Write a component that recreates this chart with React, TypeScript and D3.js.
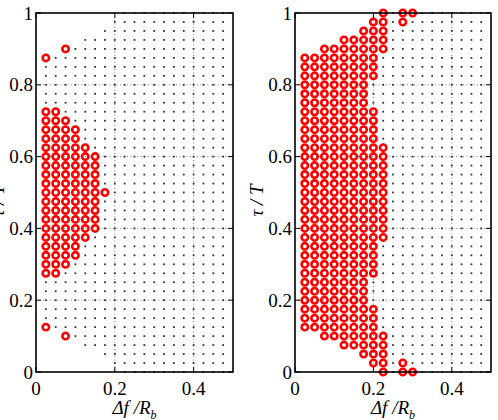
import * as d3 from 'd3';

// sampling grid (Δf/R_b columns, τ/T rows)
const dfGrid = [0.025, 0.05, 0.075, 0.1, 0.125, 0.15, 0.175, 0.2, 0.225, 0.25, 0.275, 0.3, 0.325, 0.35, 0.375, 0.4, 0.425, 0.45, 0.475];
const tauGrid = [0, 0.025, 0.05, 0.075, 0.1, 0.125, 0.15, 0.175, 0.2, 0.225, 0.25, 0.275, 0.3, 0.325, 0.35, 0.375, 0.4, 0.425, 0.45, 0.475, 0.5,
    0.525, 0.55, 0.575, 0.6, 0.625, 0.65, 0.675, 0.7, 0.725, 0.75, 0.775, 0.8, 0.825, 0.85, 0.875, 0.9, 0.925, 0.95, 0.975, 1];
// lowest τ sampled in each column (region is symmetric about τ = 0.5)
const tauLowerBound = [0.125, 0.125, 0.1, 0.1, 0.075, 0.075, 0.05, 0.025, 0, 0, 0, 0, 0, 0, 0, 0, 0, 0, 0];

const xTicks = [0, 0.2, 0.4];
const yTicks = [0, 0.2, 0.4, 0.6, 0.8, 1];
const xGridLines = [0.2, 0.4];
const yGridLines = [0.2, 0.4, 0.6, 0.8];

// red markers: Δf column -> list of [τ from, τ to]
const leftRed: [number, [number, number][]][] = [
    [0.025, [[0.125, 0.125], [0.275, 0.725], [0.875, 0.875]]],
    [0.05, [[0.275, 0.725]]],
    [0.075, [[0.1, 0.1], [0.3, 0.7], [0.9, 0.9]]],
    [0.1, [[0.325, 0.675]]],
    [0.125, [[0.375, 0.625]]],
    [0.15, [[0.4, 0.6]]],
    [0.175, [[0.5, 0.5]]],
];

const rightRed: [number, [number, number][]][] = [
    [0.025, [[0.125, 0.875]]],
    [0.05, [[0.125, 0.875]]],
    [0.075, [[0.1, 0.9]]],
    [0.1, [[0.1, 0.9]]],
    [0.125, [[0.075, 0.925]]],
    [0.15, [[0.075, 0.925]]],
    [0.175, [[0.05, 0.95]]],
    [0.2, [[0.025, 0.175], [0.275, 0.725], [0.825, 0.975]]],
    [0.225, [[0, 0.1], [0.375, 0.625], [0.9, 1]]],
    [0.275, [[0, 0.025], [0.975, 1]]],
    [0.3, [[0, 0], [1, 1]]],
];

const key = (a: number, b: number) => `${Math.round(a * 1000)}_${Math.round(b * 1000)}`;

function expand(red: [number, [number, number][]][]) {
    const pts: { df: number; tau: number }[] = [];
    red.forEach(([df, ranges]) => {
        ranges.forEach(([lo, hi]) => {
            tauGrid.filter(t => t >= lo - 1e-6 && t <= hi + 1e-6).forEach(t => pts.push({ df, tau: t }));
        });
    });
    return pts;
}

const gridPoints: { df: number; tau: number }[] = [];
dfGrid.forEach((df, i) => {
    const lo = tauLowerBound[i];
    tauGrid.filter(t => t >= lo - 1e-6 && t <= 1 - lo + 1e-6).forEach(t => gridPoints.push({ df, tau: t }));
});

const FONT = '"Liberation Serif", "Times New Roman", serif';
const top = 13;
const bottom = 372;

function Panel({ left, right, red }: { left: number; right: number; red: [number, [number, number][]][] }) {
    const x = d3.scaleLinear().domain([0, 0.5]).range([left, right]);
    const y = d3.scaleLinear().domain([0, 1]).range([bottom, top]);
    const redPts = expand(red);
    const redSet = new Set(redPts.map(p => key(p.df, p.tau)));
    const dots = gridPoints.filter(p => !redSet.has(key(p.df, p.tau)));
    const tl = 5;

    return (
        <g>
            {xGridLines.map(v => (
                <line key={'gx' + v} x1={x(v)} x2={x(v)} y1={top} y2={bottom} stroke="#555" strokeWidth={0.7} strokeDasharray="1 2.5" />
            ))}
            {yGridLines.map(v => (
                <line key={'gy' + v} x1={left} x2={right} y1={y(v)} y2={y(v)} stroke="#555" strokeWidth={0.7} strokeDasharray="1 2.5" />
            ))}
            {dots.map(p => (
                <rect key={'d' + key(p.df, p.tau)} x={x(p.df) - 0.9} y={y(p.tau) - 0.9} width={1.8} height={1.8} fill="#333" />
            ))}
            {redPts.map(p => (
                <circle key={'r' + key(p.df, p.tau)} cx={x(p.df)} cy={y(p.tau)} r={3.2} fill="none" stroke="#ff0000" strokeWidth={2.6} />
            ))}
            <rect x={left} y={top} width={right - left} height={bottom - top} fill="none" stroke="#000" strokeWidth={1.6} />
            {xTicks.map(v => (
                <g key={'xt' + v}>
                    <line x1={x(v)} x2={x(v)} y1={bottom} y2={bottom - tl} stroke="#000" strokeWidth={1} />
                    <line x1={x(v)} x2={x(v)} y1={top} y2={top + tl} stroke="#000" strokeWidth={1} />
                    <text x={x(v)} y={395} textAnchor="middle" fontFamily={FONT} fontSize={19}>{v}</text>
                </g>
            ))}
            {yTicks.map(v => (
                <g key={'yt' + v}>
                    <line x1={left} x2={left + tl} y1={y(v)} y2={y(v)} stroke="#000" strokeWidth={1} />
                    <line x1={right} x2={right - tl} y1={y(v)} y2={y(v)} stroke="#000" strokeWidth={1} />
                    <text x={left - 3} y={y(v)} dy="0.35em" textAnchor="end" fontFamily={FONT} fontSize={19}>{v}</text>
                </g>
            ))}
            <text x={(left + right) / 2} y={414} textAnchor="middle" fontFamily={FONT} fontSize={19} fontStyle="italic">
                Δf /R<tspan dy={5} fontSize={12}>b</tspan>
            </text>
            <text transform={`translate(${left - 32},${(top + bottom) / 2 + 8}) rotate(-90)`} textAnchor="middle" fontFamily={FONT} fontSize={19} fontStyle="italic">
                τ / T
            </text>
        </g>
    );
}

export default function App() {
    return (
        <svg width={498} height={420} style={{ position: 'absolute', left: 0, top: 0, background: '#fff' }}>
            <Panel left={36} right={233} red={leftRed} />
            <Panel left={295} right={491} red={rightRed} />
        </svg>
    );
}
